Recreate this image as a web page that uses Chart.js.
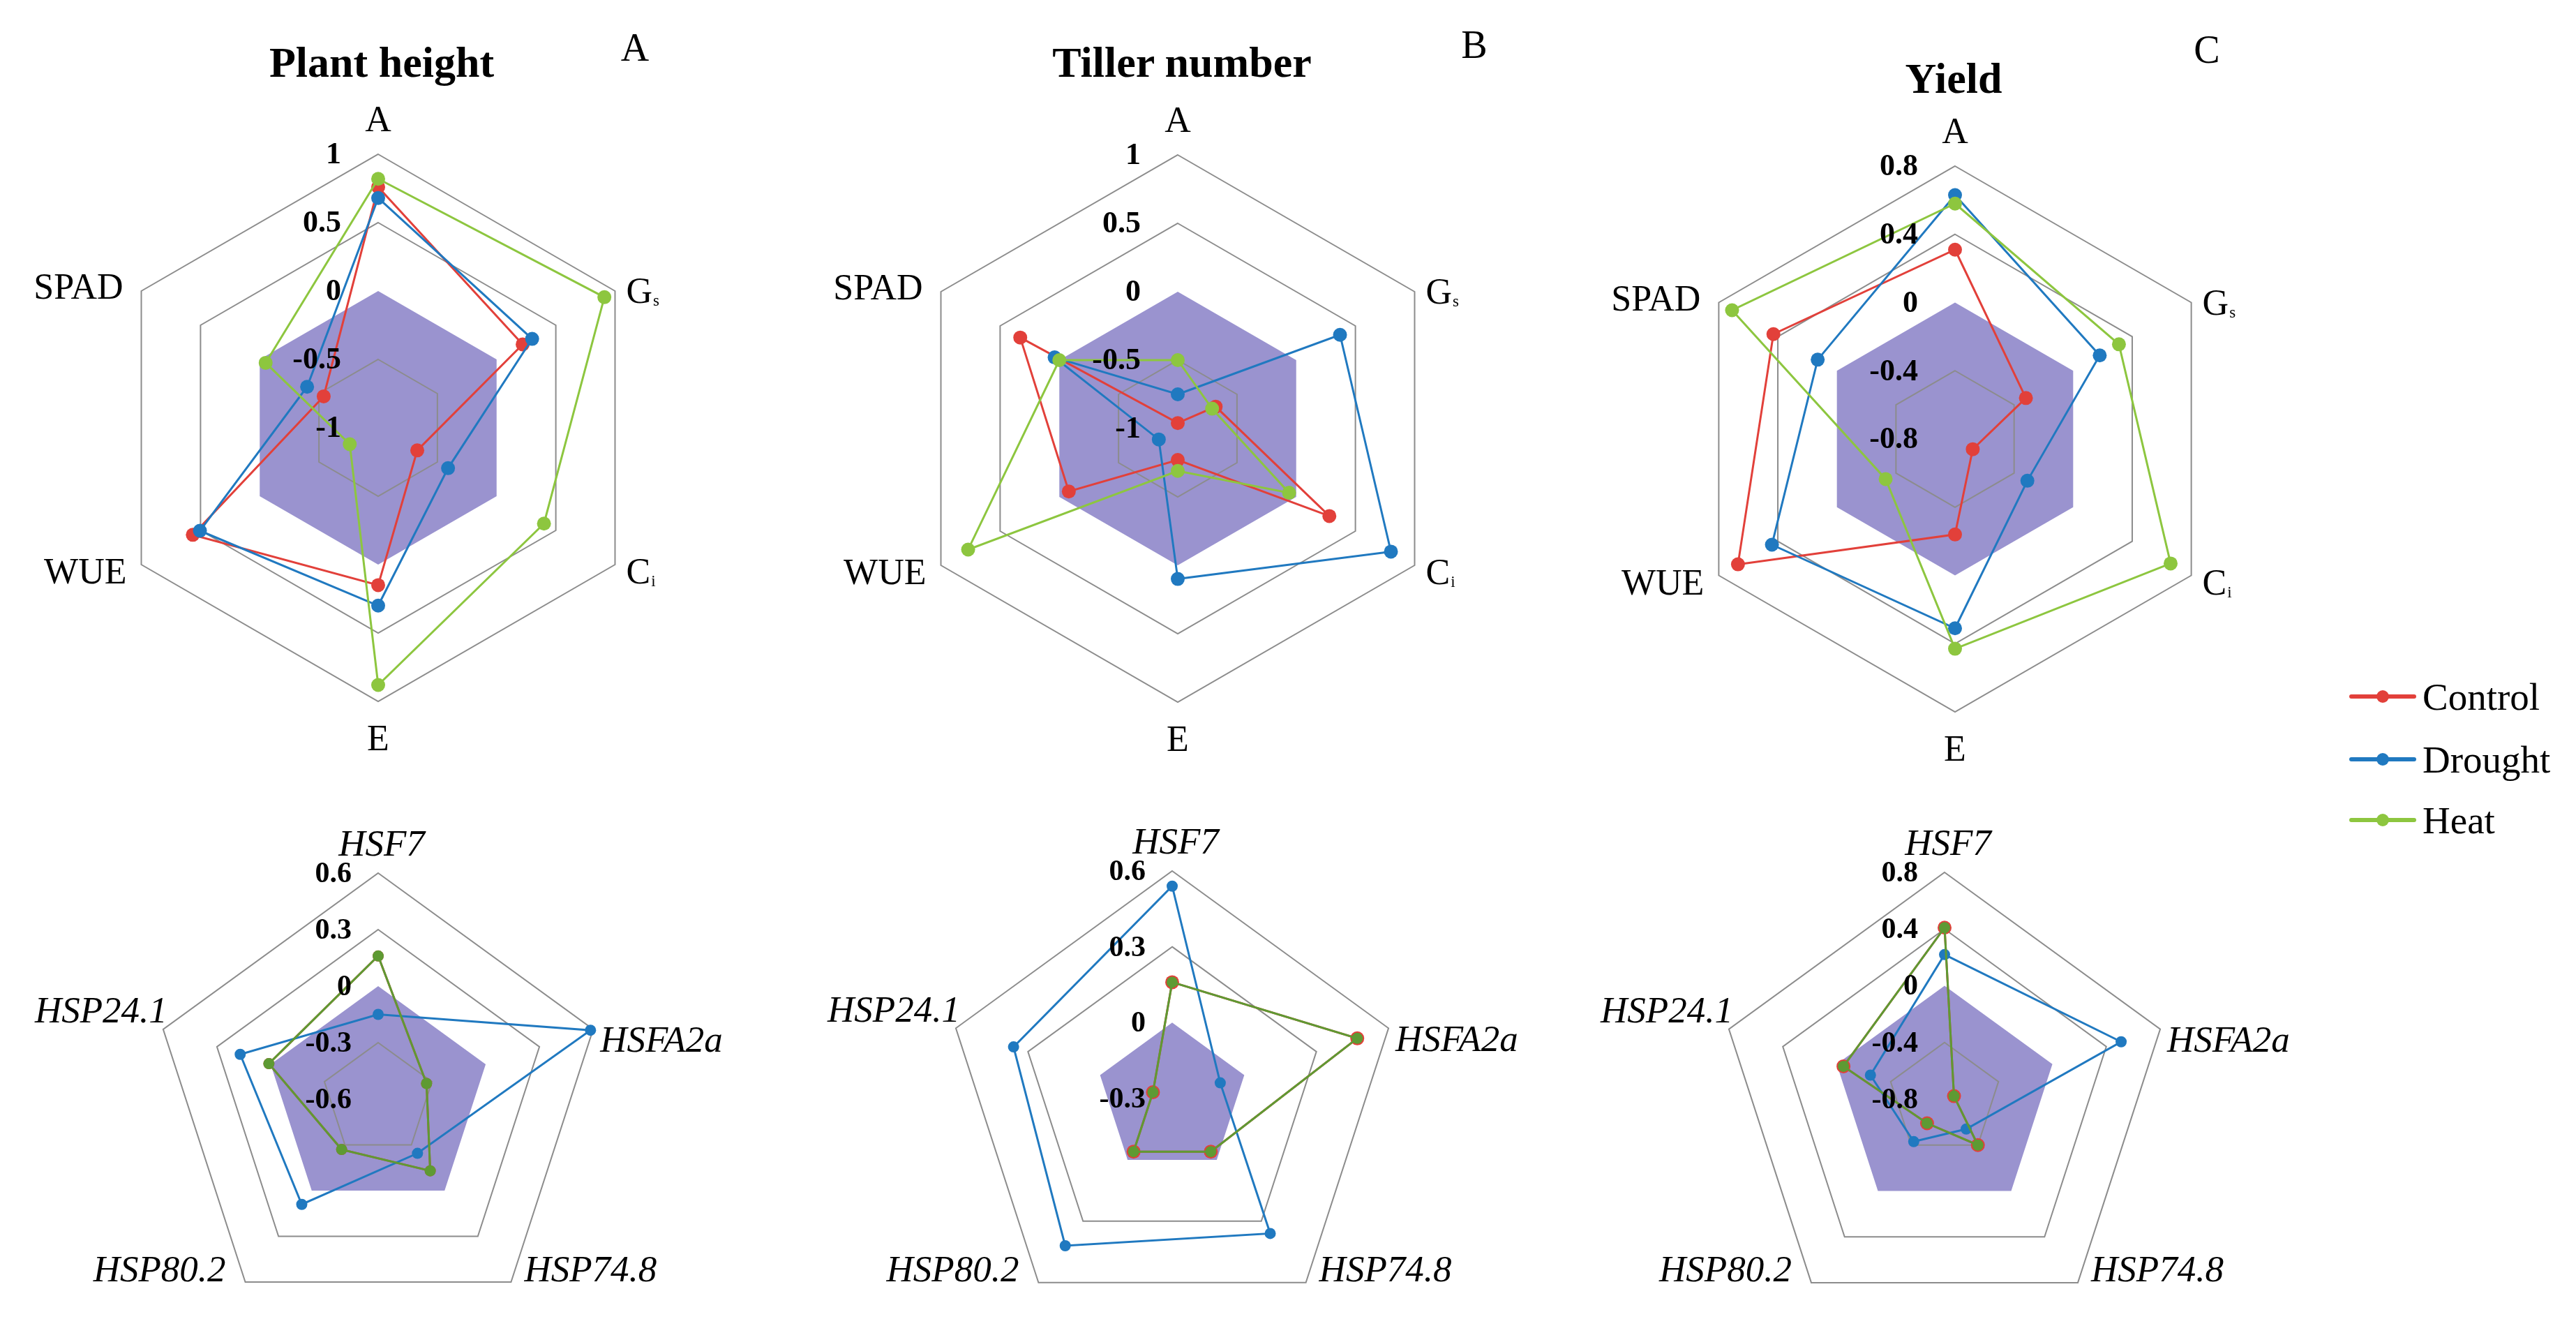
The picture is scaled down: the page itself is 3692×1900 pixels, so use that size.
<!DOCTYPE html>
<html>
<head>
<meta charset="utf-8">
<script src="https://cdn.jsdelivr.net/npm/chart.js@4.4.1/dist/chart.umd.min.js"></script>
<style>
html,body{margin:0;padding:0;background:#ffffff;}
#page{position:relative;width:3692px;height:1900px;overflow:hidden;font-family:"Liberation Serif","Times New Roman",serif;}
#page canvas{position:absolute;}
.txt{position:absolute;transform:translate(-50%,-50%);white-space:nowrap;color:#000;line-height:1;}
</style>
</head>
<body>
<div id="page"></div>
<script>
// ---------------- DATA ----------------
const physioAxes = ['A', 'Gs', 'Ci', 'E', 'WUE', 'SPAD'];
const geneAxes = ['HSF7', 'HSFA2a', 'HSP74.8', 'HSP80.2', 'HSP24.1'];
const seriesNames = ['Control', 'Drought', 'Heat'];

// Plant height (A, top)
const plantHeightControl = [0.76, 0.22, -0.67, 0.15, 0.565, -0.54];
const plantHeightDrought = [0.68, 0.30, -0.41, 0.30, 0.505, -0.40];
const plantHeightHeat    = [0.82, 0.91, 0.40, 0.88, -0.76, -0.05];
// Tiller number (B, top)
const tillerControl = [-0.96, -0.68, 0.28, -0.77, -0.08, 0.33];
const tillerDrought = [-0.75, 0.37, 0.80, 0.10, -0.84, 0.04];
const tillerHeat    = [-0.50, -0.71, -0.06, -0.69, 0.77, 0.00];
// Yield (C, top)
const yieldControl = [0.31, -0.32, -0.68, -0.24, 0.67, 0.43];
const yieldDrought = [0.63, 0.18, -0.31, 0.31, 0.44, 0.13];
const yieldHeat    = [0.58, 0.31, 0.66, 0.43, -0.33, 0.71];

// Genes vs plant height (A, bottom)
const plantHeightGeneControl = [0.16, -0.33, -0.13, -0.27, 0.01];
const plantHeightGeneDrought = [-0.15, 0.585, -0.245, 0.09, 0.17];
const plantHeightGeneHeat    = [0.16, -0.33, -0.13, -0.27, 0.01];
// Genes vs tiller number (B, bottom)
const tillerGeneControl = [0.16, 0.47, -0.04, -0.04, -0.22];
const tillerGeneDrought = [0.54, -0.10, 0.36, 0.42, 0.36];
const tillerGeneHeat    = [0.16, 0.47, -0.04, -0.04, -0.22];
// Genes vs yield (C, bottom)
const yieldGeneControl = [0.41, -0.73, -0.40, -0.59, -0.05];
const yieldGeneDrought = [0.22, 0.51, -0.54, -0.43, -0.25];
const yieldGeneHeat    = [0.41, -0.73, -0.40, -0.59, -0.05];

// zero reference area (filled polygon at r = 0)
const zeroPhysio = [0, 0, 0, 0, 0, 0];
const zeroGene = [0, 0, 0, 0, 0];

// scale ranges
const rangeA = [-1, 1, 0.5];
const rangeB = [-1, 1, 0.5];
const rangeC = [-0.8, 0.8, 0.4];
const rangeGeneA = [-0.6, 0.6, 0.3];
const rangeGeneB = [-0.3, 0.6, 0.3];
const rangeGeneC = [-0.8, 0.8, 0.4];

const panelTitles = ['Plant height', 'Tiller number', 'Yield'];
const panelLetters = ['A', 'B', 'C'];

// ---------------- STYLE ----------------
const RED = '#e2403a';
const BLUE = '#2079c0';
const GREEN = '#8dc63f';
const OLIVE = '#5e9a33';
const PURPLE = '#9a93cf';
const GRID = '#8c8c8c';
const FONT = '"Liberation Serif", "Times New Roman", serif';

const page = document.getElementById('page');

function fmt(v) { return String(Math.round(v * 100) / 100); }

const subMap = { Gs: ['G', 's'], Ci: ['C', 'i'] };

const radarText = {
  id: 'radarText',
  afterDatasetsDraw(chart, args, o) {
    const s = chart.scales.r;
    const ctx = chart.ctx;
    ctx.save();
    // tick labels
    ctx.font = 'bold ' + o.tickSize + 'px ' + FONT;
    ctx.fillStyle = '#000';
    ctx.textAlign = 'right';
    ctx.textBaseline = 'middle';
    s.ticks.forEach(t => {
      const d = s.getDistanceFromCenterForValue(t.value);
      ctx.fillText(fmt(t.value), s.xCenter - o.tickOffset, s.yCenter - d + 2);
    });
    // axis labels
    const size = o.labelSize;
    const mainFont = (o.italic ? 'italic ' : '') + size + 'px ' + FONT;
    const subFont = Math.round(size * 0.45) + 'px ' + FONT;
    ctx.textBaseline = 'alphabetic';
    chart.data.labels.forEach((lab, i) => {
      const p = s.getPointPosition(i, s.drawingArea);
      const a = s.getIndexAngle(i) - Math.PI / 2;
      const c = Math.cos(a), sn = Math.sin(a);
      let x = p.x, y = p.y, align = 'center';
      if (Math.abs(c) < 0.05) {
        x += o.topDx;
        y += sn < 0 ? -o.gapTop : o.gapBottom;
      } else {
        const key = (sn < 0 ? 'u' : 'l') + (c > 0 ? 'r' : 'l');
        const [px, dy] = o.sides[key];
        if (c > 0) { x += px; align = 'left'; } else { x -= px; align = 'right'; }
        y += dy;
      }
      const base = y + size * 0.33;
      const parts = subMap[lab];
      ctx.font = mainFont;
      if (!parts) {
        ctx.textAlign = align;
        ctx.fillText(lab, x, base);
      } else {
        const w1 = ctx.measureText(parts[0]).width;
        ctx.font = subFont;
        const w2 = ctx.measureText(parts[1]).width;
        let sx = align === 'left' ? x : (align === 'right' ? x - w1 - w2 : x - (w1 + w2) / 2);
        ctx.textAlign = 'left';
        ctx.font = mainFont;
        ctx.fillText(parts[0], sx, base);
        ctx.font = subFont;
        ctx.fillText(parts[1], sx + w1 + 1, base + size * 0.08);
      }
    });
    ctx.restore();
  }
};

const topText = { tickSize: 44, tickOffset: 53, labelSize: 52, italic: false, gapTop: 50, gapBottom: 53, topDx: 0,
  sides: { ur: [16, 0], lr: [16, 10], ul: [26, -6], ll: [21, 10] } };
const bottomText = { tickSize: 42, tickOffset: 38, labelSize: 53, italic: true, gapTop: 42, gapBottom: 42, topDx: 5,
  sides: { ur: [10, 15], lr: [19, -19], ul: [-6, -27], ll: [28, -19] } };

function makeRadar(cfg) {
  const [x0, y0, x1, y1] = cfg.box;
  const cv = document.createElement('canvas');
  cv.width = x1 - x0; cv.height = y1 - y0;
  cv.style.left = x0 + 'px'; cv.style.top = y0 + 'px';
  cv.style.width = (x1 - x0) + 'px'; cv.style.height = (y1 - y0) + 'px';
  page.appendChild(cv);
  const [mn, mx, st] = cfg.range;
  const heatColor = cfg.heatColor;
  const datasets = [
    { label: seriesNames[0], data: cfg.control, borderColor: RED, backgroundColor: RED,
      pointBackgroundColor: RED, pointBorderColor: RED, pointRadius: cfg.ctrlRadius, pointBorderWidth: 0,
      borderWidth: 3, fill: false, order: 2 },
    { label: seriesNames[1], data: cfg.drought, borderColor: BLUE, backgroundColor: BLUE,
      pointBackgroundColor: BLUE, pointBorderColor: BLUE, pointRadius: cfg.radius, pointBorderWidth: 0,
      borderWidth: 3, fill: false, order: 1 },
    { label: seriesNames[2], data: cfg.heat, borderColor: heatColor, backgroundColor: heatColor,
      pointBackgroundColor: heatColor, pointBorderColor: heatColor, pointRadius: cfg.radius, pointBorderWidth: 0,
      borderWidth: 3, fill: false, order: 0 },
    { label: 'zero', data: cfg.zero, borderColor: 'rgba(0,0,0,0)', backgroundColor: PURPLE,
      pointRadius: 0, borderWidth: 0, fill: 'start', order: 3 }
  ];
  new Chart(cv, {
    type: 'radar',
    data: { labels: cfg.labels, datasets },
    options: {
      responsive: false, animation: false, events: [],
      layout: { padding: { left: cfg.cx - cfg.R - x0, top: cfg.cy - cfg.R - y0,
                           right: x1 - cfg.cx - cfg.R, bottom: y1 - cfg.cy - cfg.R } },
      elements: { line: { tension: 0 } },
      plugins: {
        legend: { display: false }, tooltip: { enabled: false }, title: { display: false },
        filler: { drawTime: 'beforeDraw' },
        radarText: cfg.text
      },
      scales: {
        r: {
          min: mn, max: mx, beginAtZero: false,
          ticks: { display: false, stepSize: st },
          pointLabels: { display: false },
          angleLines: { display: false },
          grid: { lineWidth: 2, color: c => (Math.abs(c.tick.value) < 1e-9 ? 'rgba(0,0,0,0)' : GRID) }
        }
      }
    },
    plugins: [radarText]
  });
}

// top row
makeRadar({ box: [0, 120, 1120, 1140], cx: 542, cy: 613, R: 392, labels: physioAxes, range: rangeA,
  control: plantHeightControl, drought: plantHeightDrought, heat: plantHeightHeat, zero: zeroPhysio,
  heatColor: GREEN, radius: 10, ctrlRadius: 10, text: topText });
makeRadar({ box: [1150, 120, 2270, 1140], cx: 1688, cy: 614, R: 392, labels: physioAxes, range: rangeB,
  control: tillerControl, drought: tillerDrought, heat: tillerHeat, zero: zeroPhysio,
  heatColor: GREEN, radius: 10, ctrlRadius: 10, text: topText });
makeRadar({ box: [2290, 120, 3350, 1140], cx: 2802, cy: 629, R: 391, labels: physioAxes, range: rangeC,
  control: yieldControl, drought: yieldDrought, heat: yieldHeat, zero: zeroPhysio,
  heatColor: GREEN, radius: 10, ctrlRadius: 10, text: topText });
// bottom row
makeRadar({ box: [0, 1150, 1120, 1900], cx: 542, cy: 1579, R: 328, labels: geneAxes, range: rangeGeneA,
  control: plantHeightGeneControl, drought: plantHeightGeneDrought, heat: plantHeightGeneHeat, zero: zeroGene,
  heatColor: OLIVE, radius: 8, ctrlRadius: 8, text: bottomText });
makeRadar({ box: [1150, 1150, 2270, 1900], cx: 1680, cy: 1575, R: 327, labels: geneAxes, range: rangeGeneB,
  control: tillerGeneControl, drought: tillerGeneDrought, heat: tillerGeneHeat, zero: zeroGene,
  heatColor: OLIVE, radius: 8, ctrlRadius: 10, text: bottomText });
makeRadar({ box: [2290, 1150, 3350, 1900], cx: 2787, cy: 1577, R: 327, labels: geneAxes, range: rangeGeneC,
  control: yieldGeneControl, drought: yieldGeneDrought, heat: yieldGeneHeat, zero: zeroGene,
  heatColor: OLIVE, radius: 8, ctrlRadius: 10, text: bottomText });

// titles and panel letters
const titlePos = [[547, 89], [1694, 89], [2800, 112]];
const letterPos = [[910, 68], [2113, 64], [3163, 71]];
panelTitles.forEach((t, i) => {
  const d = document.createElement('div');
  d.className = 'txt';
  d.style.left = titlePos[i][0] + 'px'; d.style.top = titlePos[i][1] + 'px';
  d.style.font = 'bold 62px ' + FONT;
  d.textContent = t;
  page.appendChild(d);
  const l = document.createElement('div');
  l.className = 'txt';
  l.style.left = letterPos[i][0] + 'px'; l.style.top = letterPos[i][1] + 'px';
  l.style.font = '56px ' + FONT;
  l.textContent = panelLetters[i];
  page.appendChild(l);
});

// legend
const legendColors = [RED, BLUE, GREEN];
const legendY = [998, 1088, 1175];
seriesNames.forEach((n, i) => {
  const y = legendY[i];
  const line = document.createElement('div');
  line.style.cssText = `position:absolute;left:3367px;top:${y - 3}px;width:96px;height:6px;background:${legendColors[i]};border-radius:3px;`;
  page.appendChild(line);
  const dot = document.createElement('div');
  dot.style.cssText = `position:absolute;left:${3415 - 9}px;top:${y - 9}px;width:18px;height:18px;background:${legendColors[i]};border-radius:50%;`;
  page.appendChild(dot);
  const tx = document.createElement('div');
  tx.style.cssText = `position:absolute;left:3472px;top:${y}px;transform:translateY(-50%);font:55px ${FONT};line-height:1;color:#000;white-space:nowrap;`;
  tx.textContent = n;
  page.appendChild(tx);
});
</script>
</body>
</html>
